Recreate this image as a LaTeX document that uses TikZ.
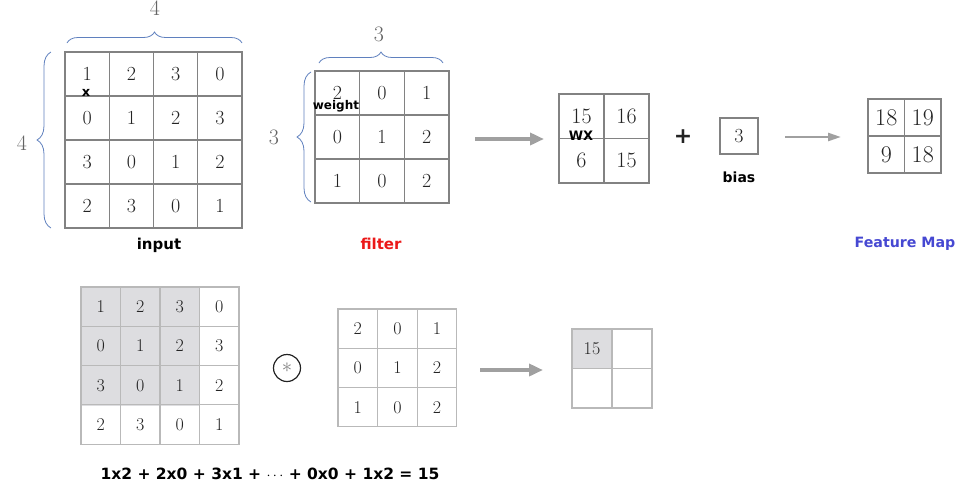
\documentclass[tikz,border=0pt]{standalone}
\usepackage{fontspec}
\newfontfamily\lab{DejaVu Sans}
\usetikzlibrary{decorations.pathreplacing,arrows.meta}
\definecolor{gridc}{RGB}{130,130,130}
\definecolor{lgrid}{RGB}{185,185,185}
\definecolor{shadec}{RGB}{221,221,224}
\definecolor{bracec}{RGB}{95,128,190}
\definecolor{arrowc}{RGB}{160,160,160}
\definecolor{fmblue}{RGB}{70,72,210}
\definecolor{filtred}{RGB}{235,25,25}
\definecolor{numc}{RGB}{35,35,35}
\definecolor{dimc}{RGB}{100,100,100}
\newcommand\mkgrid[8]{%
  \foreach \v [count=\k from 0] in {#8} {%
    \pgfmathtruncatemacro\cc{mod(\k,#6)}%
    \pgfmathtruncatemacro\rr{\k/#6}%
    \node[#7, minimum width=#4, minimum height=#5] (#1-\rr-\cc) at ({#2+#4*(\cc+0.5)},{#3+#5*(\rr+0.5)}) {\v};
  }}
\tikzset{
  cellA/.style={draw=gridc, line width=1.3pt, inner sep=0pt, text=numc, font=\fontsize{20}{20}\selectfont},
  cellB/.style={draw=lgrid, line width=1.1pt, inner sep=0pt, text=numc, font=\fontsize{18}{18}\selectfont},
  brc/.style={draw=bracec, line width=0.8pt, decorate, decoration={brace, amplitude=#1}},
  brc/.default=10pt,
  dimlab/.style={text=dimc, font=\fontsize{22}{22}\selectfont},
  blab/.style={font=\lab\bfseries\fontsize{15}{15}\selectfont},
  slab/.style={font=\lab\bfseries\fontsize{13}{13}\selectfont},
  bigarrow/.style={draw=arrowc, line width=4pt, -{Triangle[length=14pt,width=12pt]}},
  smallarrow/.style={draw=arrowc, line width=2.5pt, -{Triangle[length=13pt,width=8pt]}},
}
\begin{document}
\begin{tikzpicture}[x=1pt,y=-1pt]
\useasboundingbox (0,0) rectangle (960,488);
% ---- input grid
\mkgrid{in}{65}{52}{44.25}{44}{4}{cellA}{1,2,3,0,0,1,2,3,3,0,1,2,2,3,0,1}
\coordinate (inTL) at (67,43);
\coordinate (inTR) at (242,43);
\draw[brc=11pt] (inTL) -- (inTR);
\coordinate (inBL) at (51,228);
\coordinate (inUL) at (51,52);
\draw[brc=14pt] (inBL) -- (inUL);
\node[dimlab] (in-w) at (155,8) {4};
\node[dimlab] (in-h) at (22,143) {4};
\node[slab] (xlab) at (86,93) {x};
\node[blab] (inputlab) at (159,245) {input};
% ---- filter grid
\mkgrid{fi}{315}{71}{44.7}{44}{3}{cellA}{2,0,1,0,1,2,1,0,2}
\coordinate (fiTL) at (319,63);
\coordinate (fiTR) at (443,63);
\draw[brc=11pt] (fiTL) -- (fiTR);
\coordinate (fiBL) at (311,202);
\coordinate (fiUL) at (311,72);
\draw[brc=14pt] (fiBL) -- (fiUL);
\node[dimlab] (fi-w) at (379,34) {3};
\node[dimlab] (fi-h) at (274,137) {3};
\node[font=\lab\bfseries\fontsize{12}{12}\selectfont] (weightlab) at (336,106) {weight};
\node[blab, text=filtred] (filterlab) at (381,244) {filter};
% ---- arrow 1
\coordinate (a1s) at (475,139);
\coordinate (a1e) at (544,139);
\draw[bigarrow] (a1s) -- (a1e);
% ---- WX grid
\mkgrid{wx}{559}{94}{45}{44.5}{2}{cellA, font=\fontsize{22}{22}\selectfont}{15,16,6,15}
\node[slab] (wxlab) at (581,136) {WX};
\node[font=\lab\bfseries\fontsize{22}{22}\selectfont, text=numc] (plus) at (683,137) {+};
% ---- bias
\node[cellA, minimum width=38, minimum height=36] (bias) at (739,136) {3};
\node[blab, font=\lab\bfseries\fontsize{14}{14}\selectfont] (biaslab) at (739,177) {bias};
% ---- arrow 2
\coordinate (a2s) at (785,137);
\coordinate (a2e) at (841,137);
\draw[smallarrow] (a2s) -- (a2e);
% ---- feature map
\mkgrid{fm}{868}{99}{36.5}{37}{2}{cellA, font=\fontsize{24}{24}\selectfont}{18,19,9,18}
\node[blab, text=fmblue, font=\lab\bfseries\fontsize{14.2}{14.2}\selectfont] (fmlab) at (905,244) {Feature Map};
% ---- bottom input
\fill[shadec] (81,287) rectangle (199.5,405.5);
\mkgrid{bi}{81}{287}{39.5}{39.3}{4}{cellB}{1,2,3,0,0,1,2,3,3,0,1,2,2,3,0,1}
% ---- conv symbol
\node[circle, draw=numc, line width=1.2pt, minimum size=27pt, inner sep=0pt, text=gray, font=\fontsize{20}{20}\selectfont] (conv) at (287,368) {$\ast$};
% ---- bottom filter
\mkgrid{bf}{338}{309}{39.6}{39.3}{3}{cellB}{2,0,1,0,1,2,1,0,2}
% ---- arrow 3
\coordinate (a3s) at (480,370);
\coordinate (a3e) at (543,370);
\draw[bigarrow] (a3s) -- (a3e);
% ---- output
\fill[shadec] (572,329) rectangle (612,368.5);
\mkgrid{out}{572}{329}{40}{39.5}{2}{cellB}{15,{},{},{}}
% ---- formula
\node[font=\lab\bfseries\fontsize{15.5}{15.5}\selectfont] (formula) at (270,474) {1x2 + 2x0 + 3x1 + {\mdseries$\cdots$} + 0x0 + 1x2 = 15};
\end{tikzpicture}
\end{document}
